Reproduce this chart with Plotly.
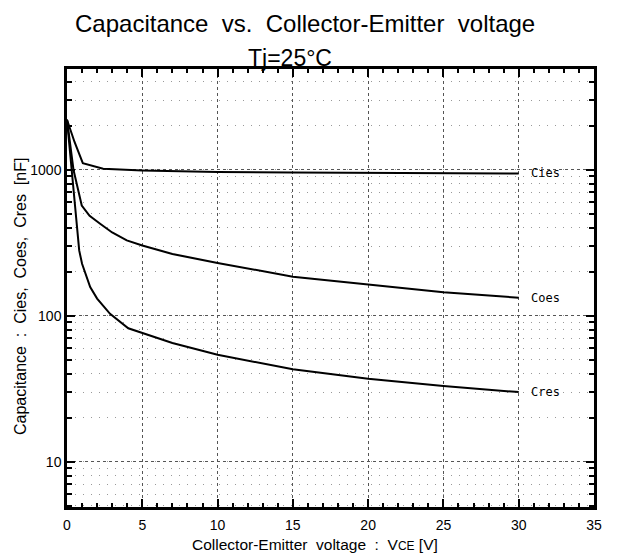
import plotly.graph_objects as go
import math

# ---- data ----
vce_cies = [0, 0.5, 1.05, 2.4, 5, 10, 15, 20, 25, 30]
cies = [2200, 1550, 1110, 1016, 990, 965, 958, 952, 947, 943]

vce_coes = [0, 0.43, 0.98, 1.5, 2.2, 3.0, 3.97, 5, 7, 10, 15, 20, 25, 30]
coes = [2200, 1000, 569, 484, 427, 372, 328, 303, 265, 230, 185, 163, 145, 133]

vce_cres = [0, 0.4, 0.81, 1.0, 1.54, 2.0, 2.86, 4.07, 5, 7, 10, 15, 20, 25, 30]
cres = [2200, 790, 280, 227, 157, 131, 103, 82, 76, 65, 54, 43, 37, 33, 30]

series_names = ["Cies", "Coes", "Cres"]
x_ticks = [0, 5, 10, 15, 20, 25, 30, 35]
y_ticks = [10, 100, 1000]
y_ticktext = ["10", "100", "1000"]

title_text = "Capacitance  vs.  Collector-Emitter  voltage"
sub_text = "Tj=25°C"
x_title = "Collector-Emitter  voltage  :  V<span style='font-size:12px'>CE</span> [V]"
y_title = "Capacitance  :  Cies,  Coes,  Cres  [nF]"

FONT = "Liberation Sans, Arial, sans-serif"
MONO = "DejaVu Sans Mono, Liberation Mono, monospace"

fig = go.Figure()
for xs, ys, name in [(vce_cies, cies, "Cies"), (vce_coes, coes, "Coes"), (vce_cres, cres, "Cres")]:
    fig.add_trace(go.Scatter(x=xs, y=ys, mode="lines", name=name,
                             line=dict(color="black", width=2), showlegend=False))
    fig.add_annotation(x=30.7, y=math.log10(ys[-1]), xref="x", yref="y", text=name,
                       showarrow=False, xanchor="left", yanchor="middle",
                       font=dict(family=MONO, size=12, color="black"))

# page body has an 8px default margin, so the figure is drawn 8px smaller and offset
fig.update_layout(
    width=612, height=552,
    margin=dict(l=59, r=26, t=61, b=53),
    paper_bgcolor="white", plot_bgcolor="white",
    font=dict(family=FONT, color="black"),
)

fig.update_xaxes(
    range=[0, 35], tickvals=x_ticks, ticks="inside", ticklen=8, tickwidth=2,
    tickcolor="black", showline=True, linecolor="black", linewidth=2.5, mirror="allticks",
    showgrid=True, gridcolor="#555", gridwidth=1, griddash="dot",
    tickfont=dict(size=14, family=FONT), zeroline=False, ticklabelstandoff=3,
    minor=dict(dtick=1, ticks="inside", ticklen=4, tickwidth=2, tickcolor="black", showgrid=False),
)
fig.update_yaxes(
    type="log", range=[0.69, 3.69], tickvals=y_ticks, ticktext=y_ticktext,
    ticks="inside", ticklen=8, tickwidth=2, tickcolor="black",
    showline=True, linecolor="black", linewidth=2.5, mirror="allticks",
    showgrid=True, gridcolor="#555", gridwidth=1, griddash="dot",
    tickfont=dict(size=14, family=FONT), zeroline=False,
    minor=dict(dtick="D1", ticks="inside", ticklen=5, tickwidth=2, tickcolor="black",
               showgrid=True, gridcolor="#999", gridwidth=1, griddash="1px,7px"),
)

fig.add_annotation(x=0.4507, y=1.1393, xref="paper", yref="paper", text=title_text,
                   showarrow=False, xanchor="center", yanchor="top",
                   font=dict(size=24, family=FONT))
fig.add_annotation(x=0.423, y=1.025, xref="paper", yref="paper", text=sub_text,
                   showarrow=False, xanchor="center", yanchor="middle",
                   font=dict(size=23, family=FONT))
fig.add_annotation(x=0.4706, y=-0.0845, xref="paper", yref="paper", text=x_title,
                   showarrow=False, xanchor="center", yanchor="middle",
                   font=dict(size=15.5, family=FONT))
fig.add_annotation(x=-0.0882, y=0.4806, xref="paper", yref="paper", text=y_title,
                   showarrow=False, xanchor="center", yanchor="middle", textangle=-90,
                   font=dict(size=16, family=FONT))

fig.write_html("out.html")
